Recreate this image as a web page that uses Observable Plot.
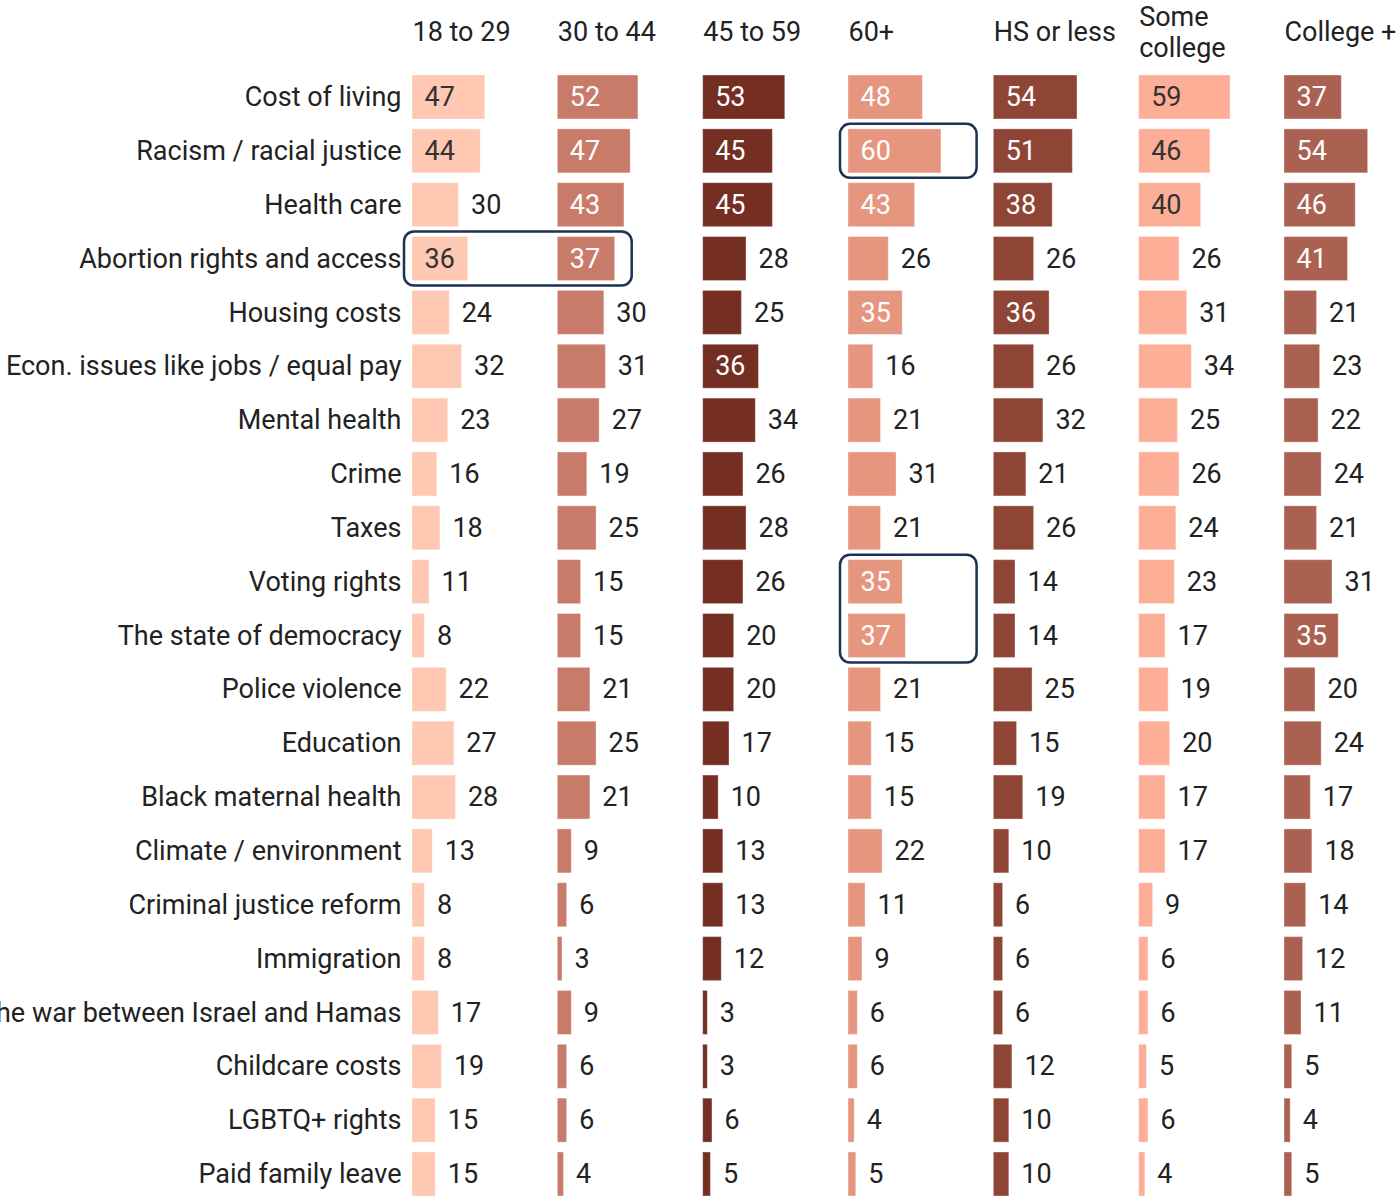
<!DOCTYPE html>
<html><head><meta charset="utf-8">
<script src="https://cdn.jsdelivr.net/npm/d3@7"></script>
<script src="https://cdn.jsdelivr.net/npm/@observablehq/plot@0.6"></script>
<style>
body{margin:0;background:#fff;font-family:Roboto,sans-serif;overflow:hidden}
#chart svg{overflow:visible}
</style>
</head><body><div id="chart"></div>
<script>
const groups = ["18 to 29", "30 to 44", "45 to 59", "60+", "HS or less", "Some college", "College +"];
const groupTitles = ["18 to 29", "30 to 44", "45 to 59", "60+", "HS or less", "Some\ncollege", "College +"];
const topics = [
  "Cost of living", "Racism / racial justice", "Health care", "Abortion rights and access",
  "Housing costs", "Econ. issues like jobs / equal pay", "Mental health", "Crime", "Taxes",
  "Voting rights", "The state of democracy", "Police violence", "Education",
  "Black maternal health", "Climate / environment", "Criminal justice reform", "Immigration",
  "The war between Israel and Hamas", "Childcare costs", "LGBTQ+ rights", "Paid family leave"
];
const age18to29   = [47, 44, 30, 36, 24, 32, 23, 16, 18, 11,  8, 22, 27, 28, 13,  8,  8, 17, 19, 15, 15];
const age30to44   = [52, 47, 43, 37, 30, 31, 27, 19, 25, 15, 15, 21, 25, 21,  9,  6,  3,  9,  6,  6,  4];
const age45to59   = [53, 45, 45, 28, 25, 36, 34, 26, 28, 26, 20, 20, 17, 10, 13, 13, 12,  3,  3,  6,  5];
const age60plus   = [48, 60, 43, 26, 35, 16, 21, 31, 21, 35, 37, 21, 15, 15, 22, 11,  9,  6,  6,  4,  5];
const hsOrLess    = [54, 51, 38, 26, 36, 26, 32, 21, 26, 14, 14, 25, 15, 19, 10,  6,  6,  6, 12, 10, 10];
const someCollege = [59, 46, 40, 26, 31, 34, 25, 26, 24, 23, 17, 19, 20, 17, 17,  9,  6,  6,  5,  6,  4];
const collegePlus = [37, 54, 46, 41, 21, 23, 22, 24, 21, 31, 35, 20, 24, 17, 18, 14, 12, 11,  5,  4,  5];
const series = [age18to29, age30to44, age45to59, age60plus, hsOrLess, someCollege, collegePlus];
const highlights = [
  {groups: ["18 to 29", "30 to 44"], topics: ["Abortion rights and access"], upTo: 48},
  {groups: ["60+"], topics: ["Racism / racial justice"], upTo: 83},
  {groups: ["60+"], topics: ["Voting rights", "The state of democracy"], upTo: 83}
];

const palette = ["#fec8b2", "#c97b6a", "#742e22", "#e6957f", "#8e4535", "#fdae97", "#ab6151"];
const lightGroups = new Set(["18 to 29", "Some college"]);
const insideMin = 35;

const data = topics.flatMap((t, i) => groups.map((g, j) => ({topic: t, group: g, value: series[j][i]})));
const titles = groups.map((g, j) => ({group: g, title: groupTitles[j]}));

const plot = Plot.plot({
  width: 1397, height: 1196,
  marginLeft: 412, marginRight: 3, marginTop: 75, marginBottom: 0,
  style: {fontFamily: "Roboto, sans-serif", fontSize: "27px", color: "#222", background: "#fff"},
  fx: {domain: groups, paddingInner: 0.243, paddingOuter: 0, round: false, axis: null, label: null},
  x: {domain: [0, 71], axis: null},
  y: {domain: topics, paddingInner: 0.183, paddingOuter: 0, round: false, label: null, tickSize: 0, tickPadding: 11},
  color: {domain: groups, range: palette},
  marks: [
    Plot.barX(data, {fx: "group", y: "topic", x: "value", fill: "group", stroke: "#fff", strokeOpacity: 0.35, strokeWidth: 1}),
    Plot.text(data.filter(d => d.value >= insideMin && !lightGroups.has(d.group)),
      {fx: "group", y: "topic", x: 0, text: "value", textAnchor: "start", dx: 12, fill: "#fff"}),
    Plot.text(data.filter(d => d.value >= insideMin && lightGroups.has(d.group)),
      {fx: "group", y: "topic", x: 0, text: "value", textAnchor: "start", dx: 12, fill: "#333"}),
    Plot.text(data.filter(d => d.value < insideMin),
      {fx: "group", y: "topic", x: "value", text: "value", textAnchor: "start", dx: 12, fill: "#222"}),
    Plot.text(titles, {fx: "group", text: "title", frameAnchor: "top-left", textAnchor: "start",
      lineAnchor: "middle", lineHeight: 1.15, dy: -44, fill: "#222"})
  ]
});

const fxS = plot.scale("fx"), yS = plot.scale("y"), xS = plot.scale("x");
const svg = d3.select(plot.tagName.toLowerCase() === "svg" ? plot : plot.querySelector("svg"));
for (const h of highlights) {
  const left = fxS.apply(h.groups[0]) - 8;
  const right = fxS.apply(h.groups[h.groups.length - 1]) + (xS.apply(h.upTo) - xS.apply(0));
  const top = yS.apply(h.topics[0]) - 5;
  const bottom = yS.apply(h.topics[h.topics.length - 1]) + yS.bandwidth + 5;
  svg.append("rect")
    .attr("x", left).attr("y", top)
    .attr("width", right - left).attr("height", bottom - top)
    .attr("rx", 10).attr("fill", "none")
    .attr("stroke", "#1d3152").attr("stroke-width", 2.5);
}
document.getElementById("chart").append(plot);
</script>
</body></html>
